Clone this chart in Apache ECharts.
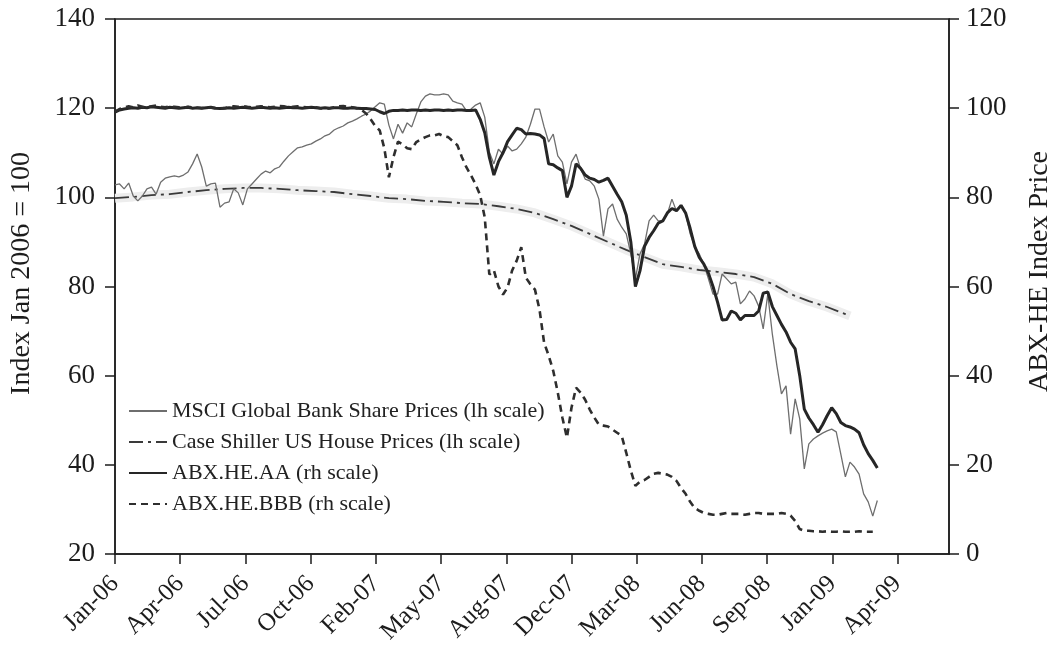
<!DOCTYPE html>
<html>
<head>
<meta charset="utf-8">
<script src="https://cdn.jsdelivr.net/npm/echarts@6/dist/echarts.min.js"></script>
<style>
html,body{margin:0;padding:0;background:#fff;}
#chart{width:1062px;height:650px;}
</style>
</head>
<body>
<div id="chart"></div>
<script>
// x unit: weeks since 2 Jan 2006; one labelled tick every 100 days
const tickLabels = ['Jan-06','Apr-06','Jul-06','Oct-06','Feb-07','May-07','Aug-07','Dec-07','Mar-08','Jun-08','Sep-08','Jan-09','Apr-09'];
const weeksPerTick = 100 / 7;

// MSCI Global Bank Share Prices (lh scale), weekly
const msci = [
102.8,103.0,101.9,103.2,100.3,99.2,100.3,101.9,102.3,100.7,
103.4,104.3,104.6,104.8,104.6,105.0,105.7,107.5,109.7,106.8,
102.5,103.0,103.2,97.8,98.7,99.0,101.9,101.0,98.3,101.9,
103.0,104.1,105.2,105.9,105.5,106.4,106.8,108.1,109.3,110.2,
111.1,111.3,111.7,112.0,112.6,113.1,113.8,114.2,115.1,115.6,
116.0,116.7,117.1,117.6,118.2,118.7,119.4,120.3,121.2,120.9,
116.2,113.1,116.4,114.4,116.7,115.8,118.7,121.4,122.7,123.2,
123.0,123.0,123.2,123.0,121.6,121.2,120.9,119.4,119.8,120.7,
121.2,118.0,110.2,107.5,110.8,109.7,111.5,110.4,110.8,112.0,
113.5,116.4,119.8,119.8,115.8,112.4,114.2,109.3,107.9,103.0,
107.9,109.7,106.4,104.1,103.7,102.5,99.6,91.3,97.4,98.5,
95.1,93.3,91.8,87.3,81.7,87.3,89.5,94.7,96.0,94.7,
94.7,96.3,99.6,96.9,98.0,96.3,91.8,88.9,87.3,85.0,
81.7,78.3,78.3,82.8,81.7,80.6,81.0,76.1,77.2,79.0,
77.9,75.6,70.5,78.3,69.3,62.2,55.9,57.7,46.9,54.8,
50.3,39.1,44.7,45.8,46.5,47.1,47.6,48.0,47.4,42.4,
37.3,40.6,39.5,37.9,33.5,31.7,28.5,32.0
];

// Case Shiller US House Prices (lh scale), sampled at these weeks
const csWeeks = [0,4,8,12,16,20,24,28,32,36,40,44,48,52,56,60,64,68,72,76,80,84,88,92,96,100,104,108,112,116,120,124,128,132,136,140,144,148,152,156,160,161];
const caseShiller = [
99.8,100.1,100.5,100.7,101.2,101.6,101.9,102.1,102.1,101.9,
101.6,101.4,101.2,100.7,100.3,99.8,99.6,99.2,99.0,98.7,
98.5,98.0,97.4,96.5,95.1,93.6,91.8,90.0,88.2,86.6,
85.0,84.4,83.7,83.3,82.8,82.1,80.6,78.3,76.7,75.4,
73.8,73.4
];

// ABX.HE.AA (rh scale), weekly
const abxAA = [
99.1,99.6,99.8,100.0,100.1,100.0,100.2,100.1,100.3,100.2,
100.1,100.0,100.2,100.1,100.0,100.1,100.2,100.0,100.1,100.0,
100.1,100.2,100.0,99.9,100.0,100.1,100.0,100.1,100.2,100.1,
100.0,100.1,100.2,100.1,100.0,100.1,100.0,100.1,100.2,100.1,
100.1,100.0,100.1,100.2,100.1,100.0,100.1,100.0,100.1,100.1,
100.0,100.0,100.1,100.0,99.9,99.9,99.8,99.7,99.2,98.8,
99.3,99.5,99.5,99.6,99.5,99.6,99.6,99.5,99.6,99.5,
99.6,99.6,99.5,99.6,99.5,99.6,99.6,99.5,99.5,99.6,
97.5,94.5,89.0,85.0,88.0,90.0,92.5,94.0,95.5,95.2,
94.2,94.3,94.2,94.0,93.2,87.5,87.3,86.6,86.0,80.0,
82.5,87.5,86.5,85.0,84.3,84.0,83.4,83.8,84.3,82.5,
80.7,79.0,76.0,70.0,60.0,63.5,69.0,71.0,72.5,74.2,
74.7,76.5,77.5,77.0,78.2,76.5,73.0,69.0,66.5,65.0,
63.0,60.0,56.5,52.5,52.6,54.5,54.0,52.5,53.5,53.5,
53.5,54.5,58.5,58.8,55.5,53.5,51.5,49.8,47.5,46.0,
40.0,32.5,30.5,29.0,27.3,29.0,31.0,32.8,31.5,29.5,
28.8,28.5,28.0,27.2,24.5,22.5,21.0,19.3
];

// ABX.HE.BBB (rh scale), weekly
const abxBBB = [
99.2,99.8,100.2,100.4,100.2,100.6,100.3,100.2,100.4,100.6,
100.3,100.2,100.4,100.3,100.2,100.1,100.3,100.2,100.1,100.0,
100.2,100.1,100.0,99.9,100.0,100.2,100.4,100.3,100.5,100.3,
100.2,100.3,100.4,100.3,100.2,100.3,100.5,100.4,100.2,100.3,
100.4,100.3,100.2,100.1,100.2,100.0,99.8,100.0,100.2,100.4,
100.5,100.3,100.2,100.0,99.6,98.8,97.5,96.0,95.0,91.0,
84.5,89.0,92.5,91.9,91.0,90.8,92.4,93.0,93.5,93.9,
93.9,94.2,93.7,93.5,92.6,91.7,89.0,86.7,84.9,82.9,
80.5,75.5,62.7,63.6,60.0,58.2,59.8,63.6,65.8,68.8,
62.0,60.5,59.3,54.8,47.4,44.5,41.1,36.2,30.6,26.1,
32.8,37.3,36.2,34.6,32.4,30.6,29.0,28.8,28.6,27.9,
27.2,26.5,22.7,18.7,15.3,16.2,16.6,17.3,18.0,18.2,
18.0,17.8,17.3,16.4,14.8,13.5,11.7,10.3,9.7,9.2,
9.0,8.8,8.8,9.0,9.2,9.0,9.0,9.0,8.8,9.0,
9.2,9.2,9.0,9.0,9.0,9.0,9.2,9.0,8.6,7.4,
5.6,5.2,5.2,5.1,5.1,5.0,5.1,5.0,5.0,5.1,
5.0,5.0,5.0,5.1,5.0,5.0,5.0
];

const seriesNames = [
  'MSCI Global Bank Share Prices (lh scale)',
  'Case Shiller US House Prices (lh scale)',
  'ABX.HE.AA (rh scale)',
  'ABX.HE.BBB (rh scale)'
];

const FONT = 'Liberation Serif';
const INK = '#1c1c1c';
const tickPos = tickLabels.map((_, i) => i * weeksPerTick);
const weekly = arr => arr.map((v, i) => [i, v]);
const csData = csWeeks.map((w, i) => [w, caseShiller[i]]);

const chart = echarts.init(document.getElementById('chart'), null, {renderer: 'canvas'});
chart.setOption({
  animation: false,
  backgroundColor: '#ffffff',
  grid: {left: 115, right: 108, top: 19, bottom: 96, show: true, borderColor: INK, borderWidth: 1.5, backgroundColor: 'transparent'},
  legend: {
    orient: 'vertical', left: 123, top: 395,
    itemWidth: 38, itemHeight: 12, itemGap: 9,
    data: seriesNames,
    itemStyle: {opacity: 0},
    textStyle: {fontFamily: FONT, fontSize: 22, color: '#222', lineHeight: 22}
  },
  xAxis: {
    type: 'value', min: 0, max: 182.7,
    axisLine: {show: true, onZero: false, lineStyle: {color: INK, width: 1.5}},
    axisTick: {show: true, customValues: tickPos, length: 10, lineStyle: {color: INK, width: 1.5}},
    axisLabel: {
      customValues: tickPos, rotate: 45, margin: 26, padding: [20, 0, 0, 0],
      fontFamily: FONT, fontSize: 25, color: INK,
      formatter: v => tickLabels[Math.round(v / weeksPerTick)] || ''
    },
    splitLine: {show: false}
  },
  yAxis: [
    {
      type: 'value', position: 'left', min: 20, max: 140, interval: 20,
      name: 'Index Jan 2006 = 100', nameLocation: 'middle', nameRotate: 90, nameGap: 79,
      nameTextStyle: {fontFamily: FONT, fontSize: 28, color: INK, padding: [0, 0, 0, 26]},
      axisLine: {show: true, lineStyle: {color: INK, width: 1.5}},
      axisTick: {show: true, length: 10, lineStyle: {color: INK, width: 1.5}},
      axisLabel: {fontFamily: FONT, fontSize: 27, color: INK, margin: 20},
      splitLine: {show: false}
    },
    {
      type: 'value', position: 'right', min: 0, max: 120, interval: 20,
      name: 'ABX-HE Index Price', nameLocation: 'middle', nameRotate: 90, nameGap: 77,
      nameTextStyle: {fontFamily: FONT, fontSize: 28, color: INK, padding: [0, 0, 0, 30]},
      axisLine: {show: true, lineStyle: {color: INK, width: 1.5}},
      axisTick: {show: true, length: 10, lineStyle: {color: INK, width: 1.5}},
      axisLabel: {fontFamily: FONT, fontSize: 27, color: INK, margin: 17},
      splitLine: {show: false}
    }
  ],
  series: [
    {
      name: 'cs-band', type: 'line', yAxisIndex: 0, data: csData, symbol: 'none', silent: true, z: 1,
      color: '#ededed', lineStyle: {color: '#ededed', width: 9}
    },
    {
      name: seriesNames[0], type: 'line', yAxisIndex: 0, data: weekly(msci), symbol: 'none', z: 3,
      color: '#6e6e6e', lineStyle: {color: '#6e6e6e', width: 1.3}
    },
    {
      name: seriesNames[1], type: 'line', yAxisIndex: 0, data: csData, symbol: 'none', z: 2,
      color: '#3a3a3a', lineStyle: {color: '#3a3a3a', width: 1.8, type: [14, 5, 3, 5]}
    },
    {
      name: seriesNames[2], type: 'line', yAxisIndex: 1, data: weekly(abxAA), symbol: 'none', z: 4,
      color: '#262626', lineStyle: {color: '#262626', width: 3}
    },
    {
      name: seriesNames[3], type: 'line', yAxisIndex: 1, data: weekly(abxBBB), symbol: 'none', z: 4,
      color: '#2e2e2e', lineStyle: {color: '#2e2e2e', width: 2.6, type: [7, 5]}
    }
  ]
});
</script>
</body>
</html>
